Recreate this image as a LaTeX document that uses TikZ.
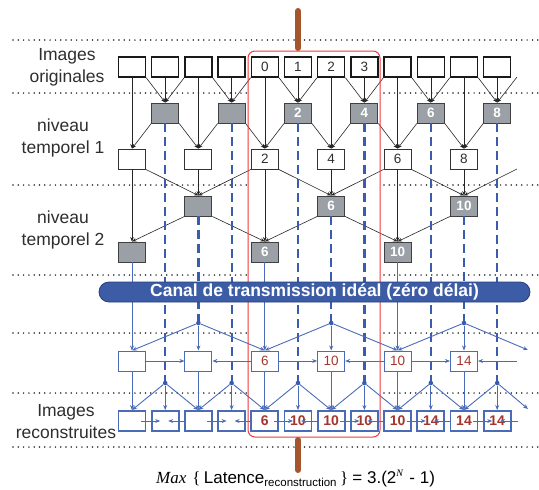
\documentclass[tikz,border=0pt]{standalone}
\usepackage{fontspec}
\setmainfont{Liberation Sans}
\newfontfamily\serifface{Liberation Serif}
\usetikzlibrary{arrows.meta,shapes.misc}

\definecolor{ink}{HTML}{2E2E2E}
\definecolor{boxgray}{RGB}{155,160,166}
\definecolor{lineblue}{HTML}{4A6BB8}
\definecolor{dashblue}{HTML}{3A5CAE}
\definecolor{chanblue}{HTML}{3C5CA6}
\definecolor{chanedge}{HTML}{2A3F7E}
\definecolor{labelred}{HTML}{A3352C}
\definecolor{frame}{HTML}{EC3A3F}
\definecolor{rod}{HTML}{A4552B}

\tikzset{
  basebox/.style={minimum width=27pt, minimum height=20pt, inner sep=0pt,
    font=\fontsize{13.5}{14}\selectfont},
  origbox/.style={basebox, draw=black!90, line width=1.4pt, text=ink},
  whitebox/.style={basebox, draw=black!80, line width=0.9pt, text=ink},
  graybox/.style={basebox, draw=black!75, line width=0.9pt, fill=boxgray,
    text=white, font=\fontsize{13.5}{14}\selectfont\bfseries},
  midbox/.style={basebox, draw=lineblue, line width=1pt, text=labelred},
  recbox/.style={basebox, draw=lineblue, line width=1.9pt, text=labelred,
    font=\fontsize{14}{14}\selectfont\bfseries},
  hub/.style={circle, fill=dashblue, inner sep=0pt, minimum size=4.6pt},
  blk/.style={draw=black!85, line width=0.6pt,
    -{Stealth[length=4.5pt,width=3.6pt]}},
  blu/.style={draw=lineblue, line width=0.9pt,
    -{Stealth[length=5pt,width=4pt]}},
  bdash/.style={draw=dashblue, line width=2.2pt, dash pattern=on 9pt off 5pt},
  sep/.style={draw=black!85, line width=1.7pt, line cap=round,
    dash pattern=on 0pt off 5.3pt},
  lbl/.style={align=center, text=ink, font=\fontsize{17.5}{22}\selectfont},
}

\begin{document}
\begin{tikzpicture}[x=1pt,y=-1pt]
\useasboundingbox (0,0) rectangle (539,490);

% separators between the levels
\draw[sep] (13,40) -- (539,40);
\foreach \yy in {93,185,275,333,393} {
  \draw[sep] (13,\yy) -- (247,\yy);
  \draw[sep] (384,\yy) -- (539,\yy);
}
\draw[sep] (13,447) -- (539,447);

% row labels
\node[lbl] (l1) at (67,67) {Images\\originales};
\node[lbl] (l2) at (63,138) {niveau\\temporel 1};
\node[lbl] (l3) at (63,230) {niveau\\temporel 2};
\node[lbl] (l4) at (66,422) {Images\\reconstruites};

% original images
\foreach \i/\t in {0/{},1/{},2/{},3/{},4/0,5/1,6/2,7/3,8/{},9/{},10/{},11/{}}
  \node[origbox] (o\i) at ({132+33.2*\i},67) {\t};
% temporal level 1: predicted (gray) and updated (white)
\foreach \i/\t in {1/{},3/{},5/2,7/4,9/6,11/8}
  \node[graybox] (a\i) at ({132+33.2*\i},113) {\t};
\foreach \i/\t in {0/{},2/{},4/2,6/4,8/6,10/8}
  \node[whitebox] (w\i) at ({132+33.2*\i},159) {\t};
% temporal level 2
\foreach \i/\t in {2/{},6/6,10/10}
  \node[graybox] (b\i) at ({132+33.2*\i},206) {\t};
\foreach \i/\t in {0/{},4/6,8/10}
  \node[graybox] (c\i) at ({132+33.2*\i},252) {\t};
% decoder side
\foreach \i/\t in {0/{},2/{},4/6,6/10,8/10,10/14}
  \node[midbox] (m\i) at ({132+33.2*\i},361) {\t};
\foreach \i/\t in {0/{},1/{},2/{},3/{},4/6,5/10,6/10,7/10,8/10,9/14,10/14,11/14}
  \node[recbox] (r\i) at ({132+33.2*\i},421) {\t};
\foreach \i in {2,6,10}
  \node[hub] (e\i) at ({132+33.2*\i},323) {};
\foreach \i in {1,3,5,7,9,11}
  \node[hub] (d\i) at ({132+33.2*\i},383) {};

% free ends on the right
\coordinate (fa) at (517,77);
\coordinate (fb) at (517,169);
\coordinate (fc) at (528,350);
\coordinate (fd) at (517,361);
\coordinate (fe) at (528,409);

% level 1 analysis
\foreach \p/\c/\n in {0/1/2,2/3/4,4/5/6,6/7/8,8/9/10} {
  \draw[blk] (o\p.south east) -- (a\c.north);
  \draw[blk] (o\c.south) -- (a\c.north);
  \draw[blk] (o\n.south west) -- (a\c.north);
  \draw[blk] (a\c.south west) -- (w\p.north);
  \draw[blk] (a\c.south east) -- (w\n.north);
}
\draw[blk] (o10.south east) -- (a11.north);
\draw[blk] (o11.south) -- (a11.north);
\draw[blk] (fa) -- (a11.north);
\draw[blk] (a11.south west) -- (w10.north);
\foreach \i in {0,2,...,10}
  \draw[blk] (o\i.south) -- (w\i.north);

% level 2 analysis
\foreach \p/\c/\n in {0/2/4,4/6/8} {
  \draw[blk] (w\p.south east) -- (b\c.north);
  \draw[blk] (w\c.south) -- (b\c.north);
  \draw[blk] (w\n.south west) -- (b\c.north);
}
\draw[blk] (w8.south east) -- (b10.north);
\draw[blk] (w10.south) -- (b10.north);
\draw[blk] (fb) -- (b10.north);
\foreach \i in {0,4,8}
  \draw[blk] (w\i.south) -- (c\i.north);
\draw[blk] (b2.south west) -- (c0.north);
\draw[blk] (b2.south east) -- (c4.north);
\draw[blk] (b6.south west) -- (c4.north);
\draw[blk] (b6.south east) -- (c8.north);
\draw[blk] (b10.south west) -- (c8.north);

% transmitted streams
\foreach \i in {1,3,5,7,9,11}
  \draw[bdash] (a\i.south) -- (d\i.center);
\foreach \i in {2,6,10}
  \draw[bdash] (b\i.south) -- (e\i.center);
\foreach \i in {0,4,8}
  \draw[blu] (c\i.south) -- (m\i.north);

% level 2 synthesis
\draw[blu] (e2) -- (m0.north);
\draw[blu] (e2) -- (m2.north);
\draw[blu] (e2) -- (m4.north);
\draw[blu] (e6) -- (m4.north);
\draw[blu] (e6) -- (m6.north);
\draw[blu] (e6) -- (m8.north);
\draw[blu] (e10) -- (m8.north);
\draw[blu] (e10) -- (m10.north);
\draw[blu] (e10) -- (fc);
\draw[blu] (m0.east) -- (m2.west);
\draw[blu] (m4.west) -- (m2.east);
\draw[blu] (m4.east) -- (m6.west);
\draw[blu] (m8.west) -- (m6.east);
\draw[blu] (m8.east) -- (m10.west);
\draw[blu] (fd) -- (m10.east);

% level 1 synthesis
\foreach \i in {0,2,...,10}
  \draw[blu] (m\i.south) -- (r\i.north);
\foreach \p/\c/\n in {0/1/2,2/3/4,4/5/6,6/7/8,8/9/10} {
  \draw[blu] (d\c) -- (r\p.north);
  \draw[blu] (d\c) -- (r\c.north);
  \draw[blu] (d\c) -- (r\n.north);
  \draw[blu] ([xshift=9pt]r\p.center) -- ([xshift=-5pt]r\c.center);
  \draw[blu] ([xshift=-13pt]r\n.center) -- ([xshift=3pt]r\c.center);
}
\draw[blu] (d11) -- (r10.north);
\draw[blu] (d11) -- (r11.north);
\draw[blu] (d11) -- (fe);
\draw[blu] ([xshift=9pt]r10.center) -- ([xshift=-5pt]r11.center);
\draw[blu] ([xshift=21pt]r11.center) -- ([xshift=3pt]r11.center);

% group of pictures for the latency bound
\draw[rod, line width=6pt, line cap=round] (298,11) -- (298,48);
\draw[rod, line width=6pt, line cap=round] (298,440) -- (298,470);
\draw[frame, line width=1pt, rounded corners=7pt] (248,51) rectangle (380,437);

% ideal channel
\node[rounded rectangle, draw=chanedge, line width=0.8pt, fill=chanblue,
  minimum width=431pt, minimum height=20pt, inner sep=0pt, text=white,
  font=\fontsize{17.5}{18}\selectfont\bfseries] (ch) at (314.5,292)
  {Canal de transmission idéal (zéro délai)};

% latency formula
\node[anchor=base west, inner sep=0pt, text=black,
  font=\fontsize{17}{20}\selectfont] (fml) at (156,483)
  {{\serifface\itshape Max}\hspace{0.35em}{\serifface\{}\hspace{0.2em}Latence\raisebox{-3pt}{\fontsize{11.5}{12}\selectfont reconstruction}\hspace{0.2em}{\serifface\}}\hspace{0.25em}= 3.(2\raisebox{7pt}{\fontsize{10}{11}\selectfont\serifface\itshape N}\hspace{0.1em} - 1)};
\end{tikzpicture}
\end{document}
